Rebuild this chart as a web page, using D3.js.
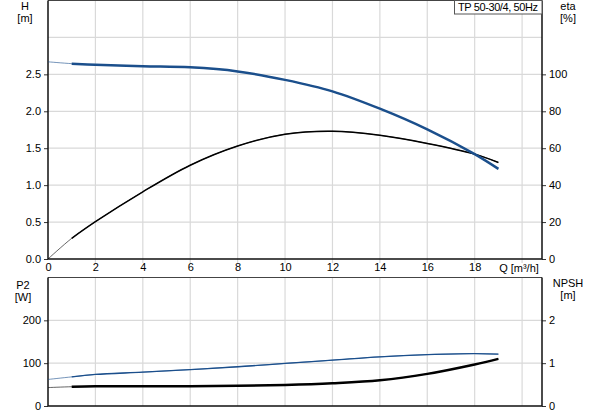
<!DOCTYPE html>
<html>
<head>
<meta charset="utf-8">
<script src="https://cdn.jsdelivr.net/npm/d3@7"></script>
<style>
	body { margin: 0; background: #fff; }
	text { font-family: 'Liberation Sans', Arial, sans-serif; font-size: 11px; fill: #000; }
</style>
</head>
<body>
<div id="chart"></div>
<script>
// pump curve data
const flow = [0, 1, 2, 4, 6, 8, 10, 12, 14, 16, 18, 19];
const head = [2.67, 2.645, 2.63, 2.61, 2.595, 2.54, 2.425, 2.27, 2.035, 1.755, 1.42, 1.22];
const eta = [0, 11.2, 20.2, 36.4, 50.8, 61.2, 67.6, 69.2, 67, 62.6, 56.8, 52.3];
const power = [62, 68, 73.7, 79, 85, 91.6, 99.3, 107, 114.9, 120, 122.5, 121];
const npsh = [0.43, 0.45, 0.46, 0.46, 0.46, 0.47, 0.49, 0.53, 0.6, 0.75, 0.97, 1.1];

const qTicks = [0, 2, 4, 6, 8, 10, 12, 14, 16, 18];
const qGrid = [2, 4, 6, 8, 10, 12, 14, 16, 18, 20];
const hTicks = [0, 0.5, 1, 1.5, 2, 2.5];
const hGrid = [0.5, 1, 1.5, 2, 2.5, 3];
const etaTicks = [0, 20, 40, 60, 80, 100];
const pTicks = [0, 100, 200];
const npshTicks = [0, 1, 2];
const title = 'TP 50-30/4, 50Hz';

const W = 593, H = 415;
const left = 48, right = 542;
const top1 = 0.5, bottom1 = 259;
const top2 = 277.5, bottom2 = 406;

const blue = '#1b4f8c';
const grid = '#d9d9d9';

const svg = d3
	.select('#chart')
	.append('svg')
	.attr('width', W)
	.attr('height', H);

const x = d3.scaleLinear().domain([0, 20.84]).range([left, right]);
const yH = d3.scaleLinear().domain([0, 3.5]).range([bottom1, top1]);
const yEta = d3.scaleLinear().domain([0, 140]).range([bottom1, top1]);
const yP = d3.scaleLinear().domain([0, 300]).range([bottom2, top2]);
const yN = d3.scaleLinear().domain([0, 3]).range([bottom2, top2]);

// grid lines
const drawVGrid = (y0, y1) => {
	svg
		.append('g')
		.selectAll('line')
		.data(qGrid)
		.join('line')
		.attr('x1', (d) => x(d))
		.attr('x2', (d) => x(d))
		.attr('y1', y0)
		.attr('y2', y1)
		.attr('stroke', grid)
		.attr('stroke-width', 1.2);
};
drawVGrid(top1, bottom1 + 4);
drawVGrid(top2, bottom2);

const drawHGrid = (vals, y) => {
	svg
		.append('g')
		.selectAll('line')
		.data(vals)
		.join('line')
		.attr('x1', left)
		.attr('x2', right)
		.attr('y1', (d) => y(d))
		.attr('y2', (d) => y(d))
		.attr('stroke', grid)
		.attr('stroke-width', 1.2);
};
drawHGrid(hGrid, yH);
drawHGrid([100, 200], yP);

// axes
const styleAxis = (g) => {
	g.select('.domain').remove();
	g.selectAll('.tick line').attr('stroke', '#333');
	g.selectAll('.tick text').style('font-family', "'Liberation Sans', Arial, sans-serif").style('font-size', '11px');
};

svg
	.append('g')
	.attr('transform', `translate(${left},0)`)
	.call(d3.axisLeft(yH).tickValues(hTicks).tickFormat(d3.format('.1f')).tickSize(4).tickPadding(3))
	.call(styleAxis);

svg
	.append('g')
	.attr('transform', `translate(${right},0)`)
	.call(d3.axisRight(yEta).tickValues(etaTicks).tickSize(4).tickPadding(3))
	.call(styleAxis);

svg
	.append('g')
	.attr('transform', `translate(0,${bottom1})`)
	.call(d3.axisBottom(x).tickValues(qTicks).tickSize(0).tickPadding(4))
	.call(styleAxis);

svg
	.append('g')
	.attr('transform', `translate(${left},0)`)
	.call(d3.axisLeft(yP).tickValues(pTicks).tickSize(4).tickPadding(3))
	.call(styleAxis);

svg
	.append('g')
	.attr('transform', `translate(${right},0)`)
	.call(d3.axisRight(yN).tickValues(npshTicks).tickFormat(d3.format('d')).tickSize(4).tickPadding(3))
	.call(styleAxis);

// frames
const frame = (y0, y1) => {
	svg
		.append('line')
		.attr('x1', left).attr('x2', right)
		.attr('y1', y0).attr('y2', y0)
		.attr('stroke', '#444').attr('stroke-width', 1.2);
	svg
		.append('path')
		.attr('d', `M${left},${y0}V${y1}H${right}V${y0}`)
		.attr('fill', 'none')
		.attr('stroke', '#111')
		.attr('stroke-width', 1.5);
};
frame(top1, bottom1);
frame(top2, bottom2);

// curves
const curve = (vals, y, from) =>
	d3
		.line()
		.x((d, i) => x(flow[i + from]))
		.y((d) => y(d))
		.curve(d3.curveCatmullRom.alpha(0.5))(vals.slice(from));

const drawCurve = (vals, y, color, thick) => {
	svg
		.append('path')
		.attr('d', curve(vals, y, 0))
		.attr('fill', 'none')
		.attr('stroke', color)
		.attr('stroke-opacity', 0.6)
		.attr('stroke-width', 1);
	if (thick) {
		svg
			.append('path')
			.attr('d', curve(vals, y, 1))
			.attr('fill', 'none')
			.attr('stroke', color)
			.attr('stroke-width', thick);
	}
};
drawCurve(eta, yEta, '#000', 1.5);
drawCurve(head, yH, blue, 2.5);
drawCurve(power, yP, blue, 1.3);
drawCurve(npsh, yN, '#000', 2.5);

// labels
const label = (txt, xx, yy, anchor) =>
	svg
		.append('text')
		.attr('x', xx)
		.attr('y', yy)
		.attr('text-anchor', anchor || 'middle')
		.text(txt);

label('H', 25, 10);
label('[m]', 25, 22);
label('eta', 568, 10);
label('[%]', 568, 22);
label('P2', 23, 289);
label('[W]', 23, 301);
label('NPSH', 568, 287);
label('[m]', 568, 299);
label('Q [m³/h]', 519, 272);

// title box
const tb = svg.append('g');
tb.append('rect')
	.attr('x', 454.5)
	.attr('y', 0.5)
	.attr('width', right - 454.5)
	.attr('height', 13.5)
	.attr('fill', '#fff')
	.attr('stroke', '#555');
tb.append('text')
	.attr('x', 458)
	.attr('y', 11)
	.attr('textLength', 80)
	.attr('lengthAdjust', 'spacing')
	.text(title);
</script>
</body>
</html>
